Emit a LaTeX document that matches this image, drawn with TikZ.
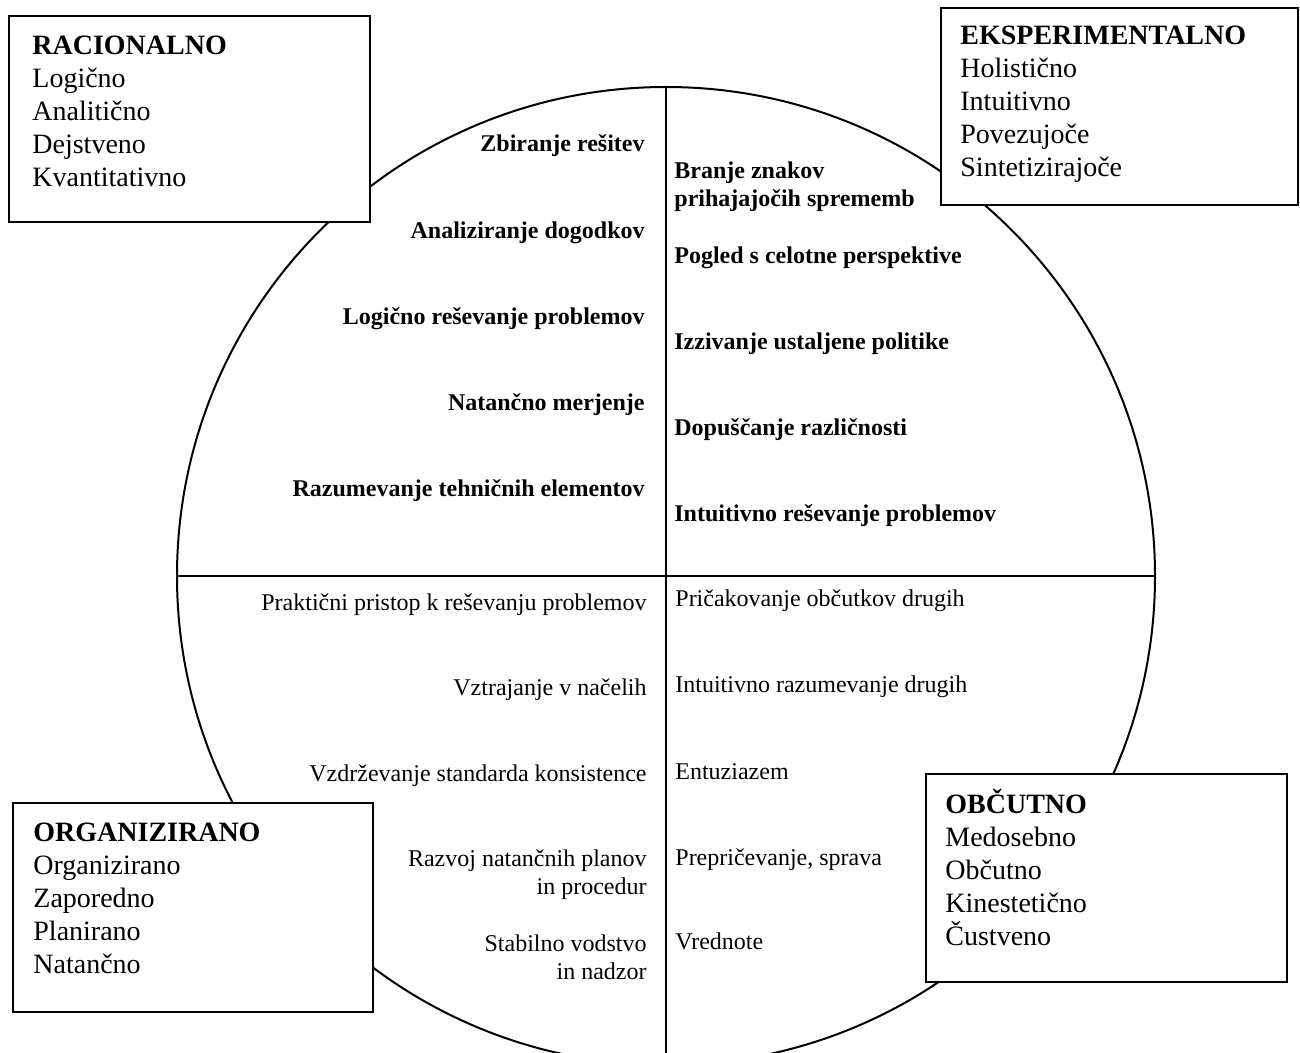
\documentclass[tikz,border=0pt]{standalone}
\usepackage{fontspec}
\setmainfont{Liberation Serif}
\begin{document}
\begin{tikzpicture}[x=0.5pt,y=-0.5pt,
  quad/.style={draw, line width=1.2pt, fill=white, inner sep=0pt},
  boxtext/.style={anchor=base west, align=left, inner sep=0pt, font=\fontsize{14}{16.5}\selectfont},
  ul/.style={anchor=base east, align=right, inner sep=0pt, font=\fontsize{12}{14}\selectfont\bfseries},
  ur/.style={anchor=base west, align=left, inner sep=0pt, font=\fontsize{12}{14}\selectfont\bfseries},
  ll/.style={anchor=base east, align=right, inner sep=0pt, font=\fontsize{12}{14}\selectfont},
  lr/.style={anchor=base west, align=left, inner sep=0pt, font=\fontsize{12}{14}\selectfont}]
\useasboundingbox (0,0) rectangle (1300,1053);
\clip (0,0) rectangle (1300,1053);
\fill[white] (0,0) rectangle (1300,1053);

% circle and axes
\node[circle, draw, line width=1pt, minimum size=489pt, inner sep=0pt] (circ) at (666,576) {};
\coordinate (bottom) at (666,1060);
\draw[line width=0.8pt] (circ.north) -- (bottom);
\draw[line width=0.8pt] (circ.west) -- (circ.east);

% corner boxes
\node[quad, minimum width=180.5pt, minimum height=103pt] (rac) at (189.5,119) {};
\node[quad, minimum width=178.5pt, minimum height=98.5pt] (eks) at (1119.5,106.5) {};
\node[quad, minimum width=180pt, minimum height=104.5pt] (org) at (193,907.5) {};
\node[quad, minimum width=180.5pt, minimum height=104pt] (obc) at (1106.5,878) {};

% (base anchor of a multi-line node = baseline of its last line)
\node[boxtext] (racT) at (32,187) {\textbf{RACIONALNO}\\Logično\\Analitično\\Dejstveno\\Kvantitativno};
\node[boxtext] (eksT) at (960,177) {\textbf{EKSPERIMENTALNO}\\Holistično\\Intuitivno\\Povezujoče\\Sintetizirajoče};
\node[boxtext] (orgT) at (33,973) {\textbf{ORGANIZIRANO}\\Organizirano\\Zaporedno\\Planirano\\Natančno};
\node[boxtext] (obcT) at (945,945) {\textbf{OBČUTNO}\\Medosebno\\Občutno\\Kinestetično\\Čustveno};

% upper left
\node[ul] (a1) at (645,152) {Zbiranje rešitev};
\node[ul] (a2) at (645,239) {Analiziranje dogodkov};
\node[ul] (a3) at (645,325) {Logično reševanje problemov};
\node[ul] (a4) at (645,410) {Natančno merjenje};
\node[ul] (a5) at (645,496) {Razumevanje tehničnih elementov};

% upper right
\node[ur] (b1) at (674,207) {Branje znakov\\prihajajočih sprememb};
\node[ur] (b2) at (674,264) {Pogled s celotne perspektive};
\node[ur] (b3) at (674,350) {Izzivanje ustaljene politike};
\node[ur] (b4) at (674,435) {Dopuščanje različnosti};
\node[ur] (b5) at (674,521) {Intuitivno reševanje problemov};

% lower left
\node[ll] (c1) at (647,610) {Praktični pristop k reševanju problemov};
\node[ll] (c2) at (647,695) {Vztrajanje v načelih};
\node[ll] (c3) at (647,781) {Vzdrževanje standarda konsistence};
\node[ll] (c4) at (647,894) {Razvoj natančnih planov\\in procedur};
\node[ll] (c5) at (647,979) {Stabilno vodstvo\\in nadzor};

% lower right
\node[lr] (d1) at (675,606) {Pričakovanje občutkov drugih};
\node[lr] (d2) at (675,692) {Intuitivno razumevanje drugih};
\node[lr] (d3) at (675,779) {Entuziazem};
\node[lr] (d4) at (675,865) {Prepričevanje, sprava};
\node[lr] (d5) at (675,949) {Vrednote};
\end{tikzpicture}
\end{document}
